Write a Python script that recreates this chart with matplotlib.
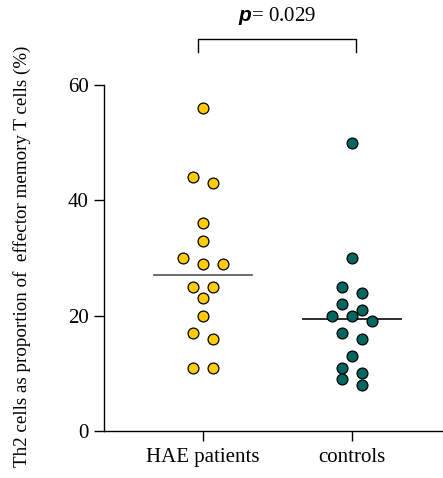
import matplotlib
matplotlib.use("Agg")
import matplotlib.pyplot as plt
import numpy as np

plt.rcParams["font.family"] = ["Liberation Serif", "DejaVu Serif"]
plt.rcParams["mathtext.fontset"] = "custom"
plt.rcParams["mathtext.it"] = "Liberation Sans:italic:bold"
plt.rcParams["mathtext.rm"] = "Liberation Serif"

groups = ["HAE patients", "controls"]
hae_values = [56, 44, 43, 36, 33, 30, 29, 29, 25, 25, 23, 20, 17, 16, 11, 11]
control_values = [50, 30, 25, 24, 22, 21, 20, 20, 19, 17, 16, 13, 11, 10, 9, 8]
p_label = "$p$= 0.029"
y_ticks = [0, 20, 40, 60]

face_colors = ["#FFCC00", "#006660"]
median_colors = ["#606060", "#1a1a1a"]

W, H = 443, 478
fig = plt.figure(figsize=(W / 100, H / 100), dpi=100)
ax_left, ax_bottom = 104 / W, (H - 431) / H
ax_w, ax_h = 1 - ax_left, (431 - 85) / H
ax = fig.add_axes([ax_left, ax_bottom, ax_w, ax_h])

xlim = (-0.664, 1.611)
ylim = (0, 60)
px_per_x = ax_w * W / (xlim[1] - xlim[0])
px_per_y = ax_h * H / (ylim[1] - ylim[0])


def row_offsets(values, row_gap_px=10.4, step_px=20):
    """Group near-equal values into rows and centre each row around 0."""
    order = np.argsort(values)[::-1]
    offsets = np.zeros(len(values))
    rows, current = [], []
    for idx in order:
        if current and (values[current[0]] - values[idx]) * px_per_y > row_gap_px:
            rows.append(current)
            current = []
        current.append(idx)
    rows.append(current)
    for row in rows:
        n = len(row)
        for k, idx in enumerate(row):
            offsets[idx] = (k - (n - 1) / 2) * step_px / px_per_x
    return offsets


for i, vals in enumerate([hae_values, control_values]):
    vals = np.asarray(vals, dtype=float)
    xs = i + row_offsets(vals)
    ax.plot(xs, vals, "o", ms=7.8, mfc=face_colors[i], mec="black",
            mew=0.9, clip_on=False, zorder=3)
    med = np.median(vals)
    ax.plot([i - 0.33, i + 0.33], [med, med], color=median_colors[i],
            lw=1.3, zorder=2)

ax.set_xlim(*xlim)
ax.set_ylim(*ylim)
ax.set_yticks(y_ticks)
ax.set_xticks(range(len(groups)))
ax.set_xticklabels(groups)
ax.tick_params(axis="both", direction="out", length=7, width=1,
               labelsize=15, pad=4)
ax.tick_params(axis="x", pad=5)
for side in ("top", "right"):
    ax.spines[side].set_visible(False)
for side in ("left", "bottom"):
    ax.spines[side].set_linewidth(1)

ax.set_ylabel("Th2 cells as proportion of  effector memory T cells (%)",
              fontsize=13.7)
ax.yaxis.set_label_coords(-0.215, 0.505)

# significance bracket
bx0, bx1 = -0.03, 1.03
ax.plot([bx0, bx0, bx1, bx1], [65.7, 68, 68, 65.7], color="black",
        lw=1, clip_on=False)
ax.text(0.5, 70.0, p_label, ha="center", va="bottom", fontsize=15,
        clip_on=False)

fig.savefig("out.png", dpi=100)
